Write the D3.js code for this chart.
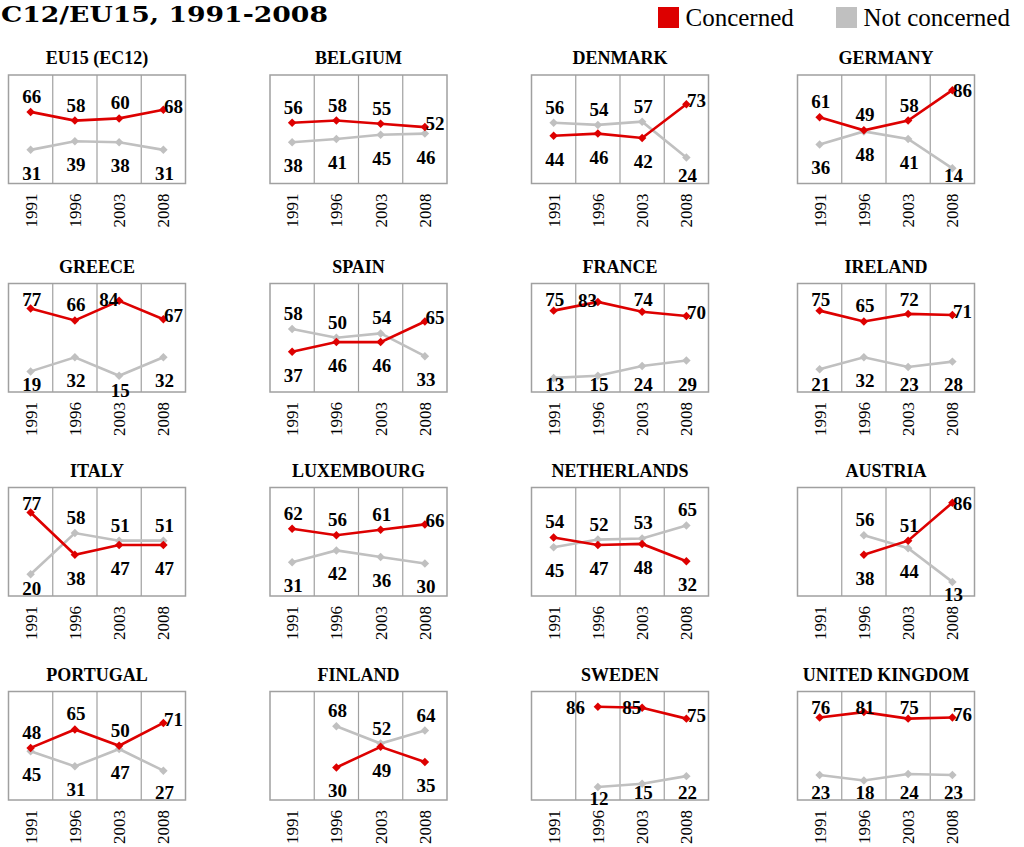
<!DOCTYPE html>
<html><head><meta charset="utf-8">
<script src="https://cdn.jsdelivr.net/npm/d3@7"></script>
<style>body{margin:0;background:#fff;overflow:hidden}</style>
</head><body><svg id="c" width="1024" height="847"></svg>
<script>
const years = ["1991","1996","2003","2008"];
const countries = ["EU15 (EC12)","BELGIUM","DENMARK","GERMANY","GREECE","SPAIN","FRANCE","IRELAND",
  "ITALY","LUXEMBOURG","NETHERLANDS","AUSTRIA","PORTUGAL","FINLAND","SWEDEN","UNITED KINGDOM"];
const concerned = [
  [66,58,60,68],[56,58,55,52],[44,46,42,73],[61,49,58,86],
  [77,66,84,67],[37,46,46,65],[75,83,74,70],[75,65,72,71],
  [77,38,47,47],[62,56,61,66],[54,47,48,32],[null,38,51,86],
  [48,65,50,71],[null,30,49,35],[null,86,85,75],[76,81,75,76]];
const notConcerned = [
  [31,39,38,31],[38,41,45,46],[56,54,57,24],[36,48,41,14],
  [19,32,15,32],[58,50,54,33],[13,15,24,29],[21,32,23,28],
  [20,58,51,51],[31,42,36,30],[45,52,53,65],[null,56,44,13],
  [45,31,47,27],[null,68,52,64],[null,12,15,22],[23,18,24,23]];
const seriesNames = ["Concerned","Not concerned"];
const titleText = "C12/EU15, 1991-2008";

// label placement codes (layout only): a=above b=below B=below edge r=right l/L=left
const labelPosC = ["aaar","aaar","bbbr","aaar","aalr","bbbr","alar","aaar",
  "abbb","aaar","abbb","-bar","aaar","-bbb","-Llr","aaar"];
const labelPosN = ["bbbb","bbbb","aaab","bbbb","bbBb","aaab","bbbb","bbbb",
  "baaa","bbbb","baaa","-abB","bbbb","-aaa","-Bbb","bbbb"];

const RED = "#dd0000", GREY = "#c0c0c0", FRAME = "#a0a0a0";
const serif = '"Liberation Serif", Tinos, "Times New Roman", Times, "DejaVu Serif", serif';
const svg = d3.select("#c");

// title (left edge clipped in the reference)
svg.append("text").attr("x", 1).attr("y", 21.5)
  .attr("textLength", 327).attr("lengthAdjust", "spacingAndGlyphs")
  .style("font-family", '"DejaVu Serif", serif').style("font-weight", "bold")
  .style("font-size", "23px").text(titleText);

// legend
const legend = [{name: seriesNames[0], c: RED, x: 658}, {name: seriesNames[1], c: GREY, x: 836}];
legend.forEach(l => {
  svg.append("rect").attr("x", l.x).attr("y", 7).attr("width", 21).attr("height", 21).attr("fill", l.c);
  svg.append("text").attr("x", l.x + 27.5).attr("y", 25.5)
    .style("font-family", serif).style("font-size", "25px")
    .text(l.name);
});

const colX = [8.5, 270, 531.5, 797.5], rowY = [75, 283.5, 487.5, 691.5];
const W = 177, H = 108.5;
const x = d3.scaleBand().domain(years).range([0, W]);
const y = d3.scaleLinear().domain([0, 100]).range([H, 0]);
const cx = d => x(d) + x.bandwidth() / 2;
const diamond = d3.symbol().type(d3.symbolSquare).size(36);

countries.forEach((name, i) => {
  const g = svg.append("g").attr("transform", `translate(${colX[i % 4]},${rowY[Math.floor(i / 4)]})`);
  g.append("text").attr("x", W / 2).attr("y", -11).attr("text-anchor", "middle")
    .style("font-family", serif).style("font-weight", "bold").style("font-size", "18px").text(name);
  g.append("rect").attr("width", W).attr("height", H).attr("fill", "none")
    .attr("stroke", FRAME).attr("stroke-width", 1.5);
  g.selectAll("line.sep").data(years.slice(1)).join("line").attr("class", "sep")
    .attr("x1", d => x(d)).attr("x2", d => x(d)).attr("y1", 0).attr("y2", H)
    .attr("stroke", FRAME).attr("stroke-width", 1.2);

  const ax = g.append("g").attr("transform", `translate(0,${H})`)
    .call(d3.axisBottom(x).tickSize(0));
  ax.select(".domain").remove();
  ax.selectAll("text").attr("transform", "rotate(-90)").attr("x", -10).attr("y", 0)
    .attr("dy", "0.35em").style("text-anchor", "end")
    .style("font-family", serif).style("font-size", "17px").attr("fill", "#000");

  const series = [
    {vals: notConcerned[i], color: GREY, pos: labelPosN[i]},
    {vals: concerned[i], color: RED, pos: labelPosC[i]}
  ];
  series.forEach(s => {
    const pts = years.map((yr, k) => ({yr, v: s.vals[k], p: s.pos[k]})).filter(d => d.v != null);
    const line = d3.line().x(d => cx(d.yr)).y(d => y(d.v));
    g.append("path").datum(pts).attr("d", line).attr("fill", "none")
      .attr("stroke", s.color).attr("stroke-width", 2.6);
    g.selectAll(null).data(pts).join("path")
      .attr("d", diamond).attr("fill", s.color)
      .attr("transform", d => `translate(${cx(d.yr)},${y(d.v)}) rotate(45)`);
  });
  series.forEach(s => {
    const pts = years.map((yr, k) => ({yr, v: s.vals[k], p: s.pos[k]})).filter(d => d.v != null);
    g.selectAll(null).data(pts).join("text")
      .style("font-family", serif).style("font-weight", "bold").style("font-size", "19px")
      .attr("fill", "#000")
      .attr("text-anchor", d => d.p === "r" ? "start" : (d.p === "l" || d.p === "L") ? "end" : "middle")
      .attr("x", d => {
        const px = cx(d.yr);
        if (d.p === "r") return px + 0.5;
        if (d.p === "l") return px - 1;
        if (d.p === "L") return px - 13;
        return px + 1;
      })
      .attr("y", d => {
        const py = y(d.v);
        if (d.p === "a") return Math.max(py - 9, 22);
        if (d.p === "r") return Math.max(py + 3, 22);
        if (d.p === "l" || d.p === "L") return Math.max(py + 5, 22);
        if (d.p === "B") return H + 5;
        return Math.min(py + 30, H - 1.5);
      })
      .text(d => d.v);
  });
});
</script></body></html>
